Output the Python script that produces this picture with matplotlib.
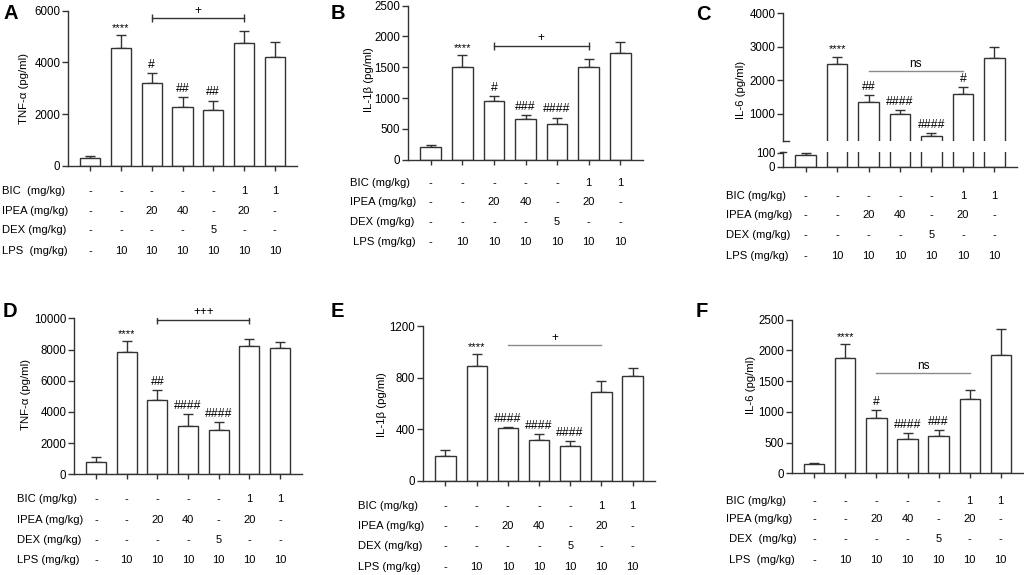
import numpy as np
import matplotlib.pyplot as plt
from matplotlib.transforms import blended_transform_factory

plt.rcParams['font.family'] = ['Liberation Sans', 'DejaVu Sans']

W, H = 1024, 575
EDGE = '#333333'
GRAY = '#8a8a8a'

# treatment rows under each panel
bic = ['-', '-', '-', '-', '-', '1', '1']
ipea = ['-', '-', '20', '40', '-', '20', '-']
dex = ['-', '-', '-', '-', '5', '-', '-']
lps = ['-', '10', '10', '10', '10', '10', '10']

# A: TNF-a
a_val = [300, 4570, 3200, 2280, 2150, 4740, 4200]
a_err = [100, 480, 380, 400, 380, 470, 600]
a_sig = ['', '****', '#', '##', '##', '', '']
# B: IL-1b
b_val = [200, 1510, 950, 660, 585, 1510, 1740]
b_err = [40, 190, 90, 70, 100, 130, 175]
b_sig = ['', '****', '#', '###', '####', '', '']
# C: IL-6
c_val = [80, 2480, 1340, 990, 345, 1580, 2680]
c_err = [20, 230, 210, 130, 80, 220, 300]
c_sig = ['', '****', '##', '####', '####', '#', '']
# D: TNF-a
d_val = [810, 7860, 4790, 3120, 2860, 8250, 8120]
d_err = [300, 700, 600, 730, 510, 450, 385]
d_sig = ['', '****', '##', '####', '####', '', '']
# E: IL-1b
e_val = [190, 890, 410, 320, 267, 692, 814]
e_err = [50, 95, 10, 40, 40, 85, 65]
e_sig = ['', '****', '####', '####', '####', '', '']
# F: IL-6
f_val = [146, 1880, 906, 564, 602, 1210, 1930]
f_err = [17, 220, 125, 87, 98, 147, 423]
f_sig = ['', '****', '#', '####', '###', '', '']

x = np.arange(7)
fig = plt.figure(figsize=(W / 100, H / 100), dpi=100)


def rect(x0, x1, ytop, ybot):
    return [x0 / W, 1 - ybot / H, (x1 - x0) / W, (ybot - ytop) / H]


def style(ax, ylim, yticks):
    for s in ['top', 'right']:
        ax.spines[s].set_visible(False)
    for s in ['left', 'bottom']:
        ax.spines[s].set_color(EDGE)
        ax.spines[s].set_linewidth(1.0)
    ax.set_xlim(-0.72, 6.72)
    ax.set_ylim(*ylim)
    ax.set_yticks(yticks)
    ax.set_xticks(x)
    ax.set_xticklabels([])
    ax.tick_params(axis='y', length=4, width=1, color=EDGE, labelsize=8.3, pad=1.5)
    ax.tick_params(axis='x', length=3.5, width=1, color=EDGE)
    ax.patch.set_alpha(0)


def bars(ax, vals, errs):
    ax.bar(x, vals, width=0.65, color='white', edgecolor=EDGE, linewidth=1.0, zorder=2)
    ax.errorbar(x, vals, yerr=[np.zeros(7), errs], fmt='none', ecolor=EDGE,
                elinewidth=1, capsize=3.5, capthick=1, zorder=1)


def marks(ax, vals, errs, sig):
    for i in range(7):
        if sig[i]:
            fs = 8 if sig[i].startswith('*') else 8.8
            ax.annotate(sig[i], (x[i], vals[i] + errs[i]), xytext=(0, 1.5),
                        textcoords='offset points', ha='center', va='bottom', fontsize=fs)


def bracket(ax, y, label, color, caps):
    ax.plot([x[2], x[5]], [y, y], color=color, lw=1)
    if caps:
        ax.plot([x[2], x[5]], [y, y], ls='none', marker='|', ms=6, mew=1, color=color)
    ax.annotate(label, ((x[2] + x[5]) / 2, y), xytext=(0, 1), textcoords='offset points',
                ha='center', va='bottom', fontsize=8.5)


def table(ax, label_x, rows_y, labels):
    tr = blended_transform_factory(ax.transData, fig.transFigure)
    for row, yy, lab in zip([bic, ipea, dex, lps], rows_y, labels):
        fig.text(label_x / W, 1 - yy / H, lab, ha='left', va='center', fontsize=8.1)
        for i, s in enumerate(row):
            ax.text(x[i], 1 - yy / H, s, transform=tr, ha='center', va='center', fontsize=8)


def ylab(px, py, s):
    fig.text(px / W, 1 - py / H, s, rotation=90, ha='center', va='center', fontsize=8.2)


def letter(px, py, s):
    fig.text(px / W, 1 - py / H, s, ha='left', va='baseline', fontsize=14.5, fontweight='bold')


labels_std = ['BIC (mg/kg)', 'IPEA (mg/kg)', 'DEX (mg/kg)', 'LPS (mg/kg)']

# A
ax = fig.add_axes(rect(68, 297, 10.7, 166))
style(ax, (0, 6000), [0, 2000, 4000, 6000])
bars(ax, a_val, a_err)
marks(ax, a_val, a_err, a_sig)
bracket(ax, 5700, '+', EDGE, True)
table(ax, 2, [190.7, 210.7, 230, 250.7], ['BIC  (mg/kg)', 'IPEA (mg/kg)', 'DEX (mg/kg)', 'LPS  (mg/kg)'])
ylab(24, 88, 'TNF-α (pg/ml)')
letter(3, 19, 'A')

# B
ax = fig.add_axes(rect(408, 643, 5.7, 159.7))
style(ax, (0, 2500), [0, 500, 1000, 1500, 2000, 2500])
bars(ax, b_val, b_err)
marks(ax, b_val, b_err, b_sig)
bracket(ax, 1850, '+', EDGE, True)
table(ax, 350, [182.7, 202.3, 222.3, 242.3], ['BIC (mg/kg)', 'IPEA (mg/kg)', 'DEX (mg/kg)', ' LPS (mg/kg)'])
ylab(369, 80, 'IL-1β (pg/ml)')
letter(331, 19, 'B')

# C (broken axis)
axu = fig.add_axes(rect(783, 1017, 13.3, 140.7))
style(axu, (200, 4000), [1000, 2000, 3000, 4000])
axu.spines['bottom'].set_visible(False)
axu.tick_params(axis='x', length=0)
bars(axu, c_val, c_err)
marks(axu, c_val, c_err, c_sig)
bracket(axu, 2270, 'ns', GRAY, False)
axu.plot([0, 0.025], [0, 0], transform=axu.transAxes, clip_on=False, color=EDGE, lw=1)

axl = fig.add_axes(rect(783, 1017, 152.3, 166.7))
style(axl, (0, 102), [0, 100])
bars(axl, c_val, c_err)
axl.plot([-0.012, 0.012], [1, 1], transform=axl.transAxes, clip_on=False, color=EDGE, lw=1)
table(axl, 726, [196, 215, 235.3, 256], labels_std)
ylab(741, 90, 'IL-6 (pg/ml)')
letter(696, 20, 'C')

# D
ax = fig.add_axes(rect(74, 302, 318.3, 474.3))
style(ax, (0, 10000), [0, 2000, 4000, 6000, 8000, 10000])
bars(ax, d_val, d_err)
marks(ax, d_val, d_err, d_sig)
bracket(ax, 9900, '+++', EDGE, True)
table(ax, 17, [499, 519.7, 540.3, 560.3], labels_std)
ylab(26, 395, 'TNF-α (pg/ml)')
letter(3, 317, 'D')

# E
ax = fig.add_axes(rect(423, 655, 326.3, 480.7))
style(ax, (0, 1200), [0, 400, 800, 1200])
bars(ax, e_val, e_err)
marks(ax, e_val, e_err, e_sig)
bracket(ax, 1055, '+', GRAY, False)
table(ax, 358, [506, 525.7, 546.3, 567], labels_std)
ylab(382, 405, 'IL-1β (pg/ml)')
letter(331, 317, 'E')

# F
ax = fig.add_axes(rect(792, 1023, 319.7, 473.3))
style(ax, (0, 2500), [0, 500, 1000, 1500, 2000, 2500])
bars(ax, f_val, f_err)
marks(ax, f_val, f_err, f_sig)
bracket(ax, 1630, 'ns', GRAY, False)
table(ax, 726, [500.7, 519.3, 539.3, 560.3], ['BIC (mg/kg)', 'IPEA (mg/kg)', ' DEX  (mg/kg)', ' LPS  (mg/kg)'])
ylab(751, 385, 'IL-6 (pg/ml)')
letter(696, 317, 'F')

fig.savefig('out.png', dpi=100)
